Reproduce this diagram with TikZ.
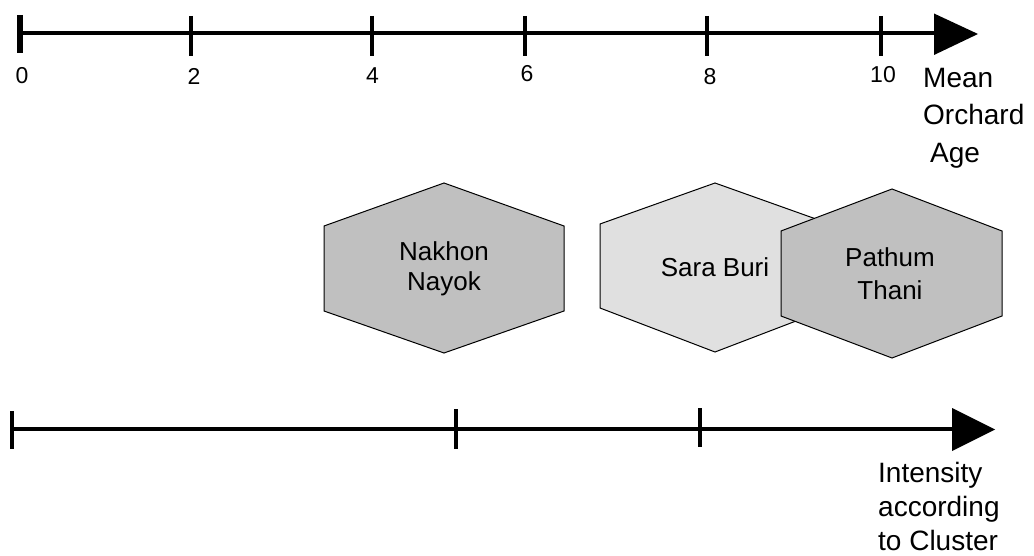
\documentclass[tikz,border=0pt]{standalone}
\usepackage{fontspec}
\setmainfont{Liberation Sans}
\definecolor{hexdark}{HTML}{C0C0C0}
\definecolor{hexlight}{HTML}{E0E0E0}
\begin{document}
\begin{tikzpicture}[x=1pt,y=-1pt,
  axisline/.style={line width=4pt},
  tickmark/.style={line width=3.5pt},
  zerotick/.style={line width=6pt},
  arrowtip/.style={fill=black},
  hexa/.style={draw=black,line width=1pt,line join=miter},
  ticklabel/.style={font=\fontsize{23}{27}\selectfont, inner sep=0pt},
  hextext/.style={font=\fontsize{26}{30}\selectfont, align=center, inner sep=0pt},
  axtitle/.style={font=\fontsize{28}{37.5}\selectfont, align=left, inner sep=0pt, anchor=north west}]
\useasboundingbox (0,0) rectangle (1034,556);

% ---------- top axis ----------
\coordinate (ta) at (20,33);
\coordinate (tb) at (936,33);
\draw[axisline] (ta) -- (tb);
\fill[arrowtip] (934,13.5) -- (978,34) -- (934,55) -- cycle;
\draw[zerotick] (20,15) -- (20,53);
\foreach \x in {191,372,525,707,881}
  \draw[tickmark] (\x,16) -- (\x,56);
\node[ticklabel] (l0) at (22,76) {0};
\node[ticklabel] (l2) at (194,76) {2};
\node[ticklabel] (l4) at (372.5,76) {4};
\node[ticklabel] (l6) at (527,74) {6};
\node[ticklabel] (l8) at (710,77) {8};
\node[ticklabel] (l10) at (883,75) {10};
\node[axtitle] (agetitle) at (923,68) {Mean\\Orchard\\\hspace*{0.25em}Age};

% ---------- hexagons ----------
\filldraw[hexa,fill=hexdark] (444,183) -- (564,226) -- (564,311) -- (444,353) -- (324,311) -- (324,226) -- cycle;
\node[hextext] (nakhon) at (444,269) {Nakhon\\Nayok};

\filldraw[hexa,fill=hexlight] (715,183) -- (830,224) -- (830,308) -- (715,352) -- (600,308) -- (600,224) -- cycle;
\node[hextext] (sara) at (715,267) {Sara Buri};

\filldraw[hexa,fill=hexdark] (892,189) -- (1002,231) -- (1002,316) -- (892,358) -- (781,316) -- (781,231) -- cycle;
\node[hextext,font=\fontsize{26}{33}\selectfont] (pathum) at (890,274) {Pathum\\Thani};

% ---------- bottom axis ----------
\coordinate (ba) at (12,429);
\coordinate (bb) at (954,429);
\draw[axisline] (ba) -- (bb);
\fill[arrowtip] (952,408) -- (995,429.5) -- (952,451) -- cycle;
\draw[tickmark,line width=4.5pt] (12,411) -- (12,449);
\draw[tickmark] (456,409) -- (456,449);
\draw[tickmark] (700,408) -- (700,447);
\node[axtitle,font=\fontsize{28}{34}\selectfont] (clustertitle) at (878,462) {Intensity\\according\\to Cluster};
\end{tikzpicture}
\end{document}
